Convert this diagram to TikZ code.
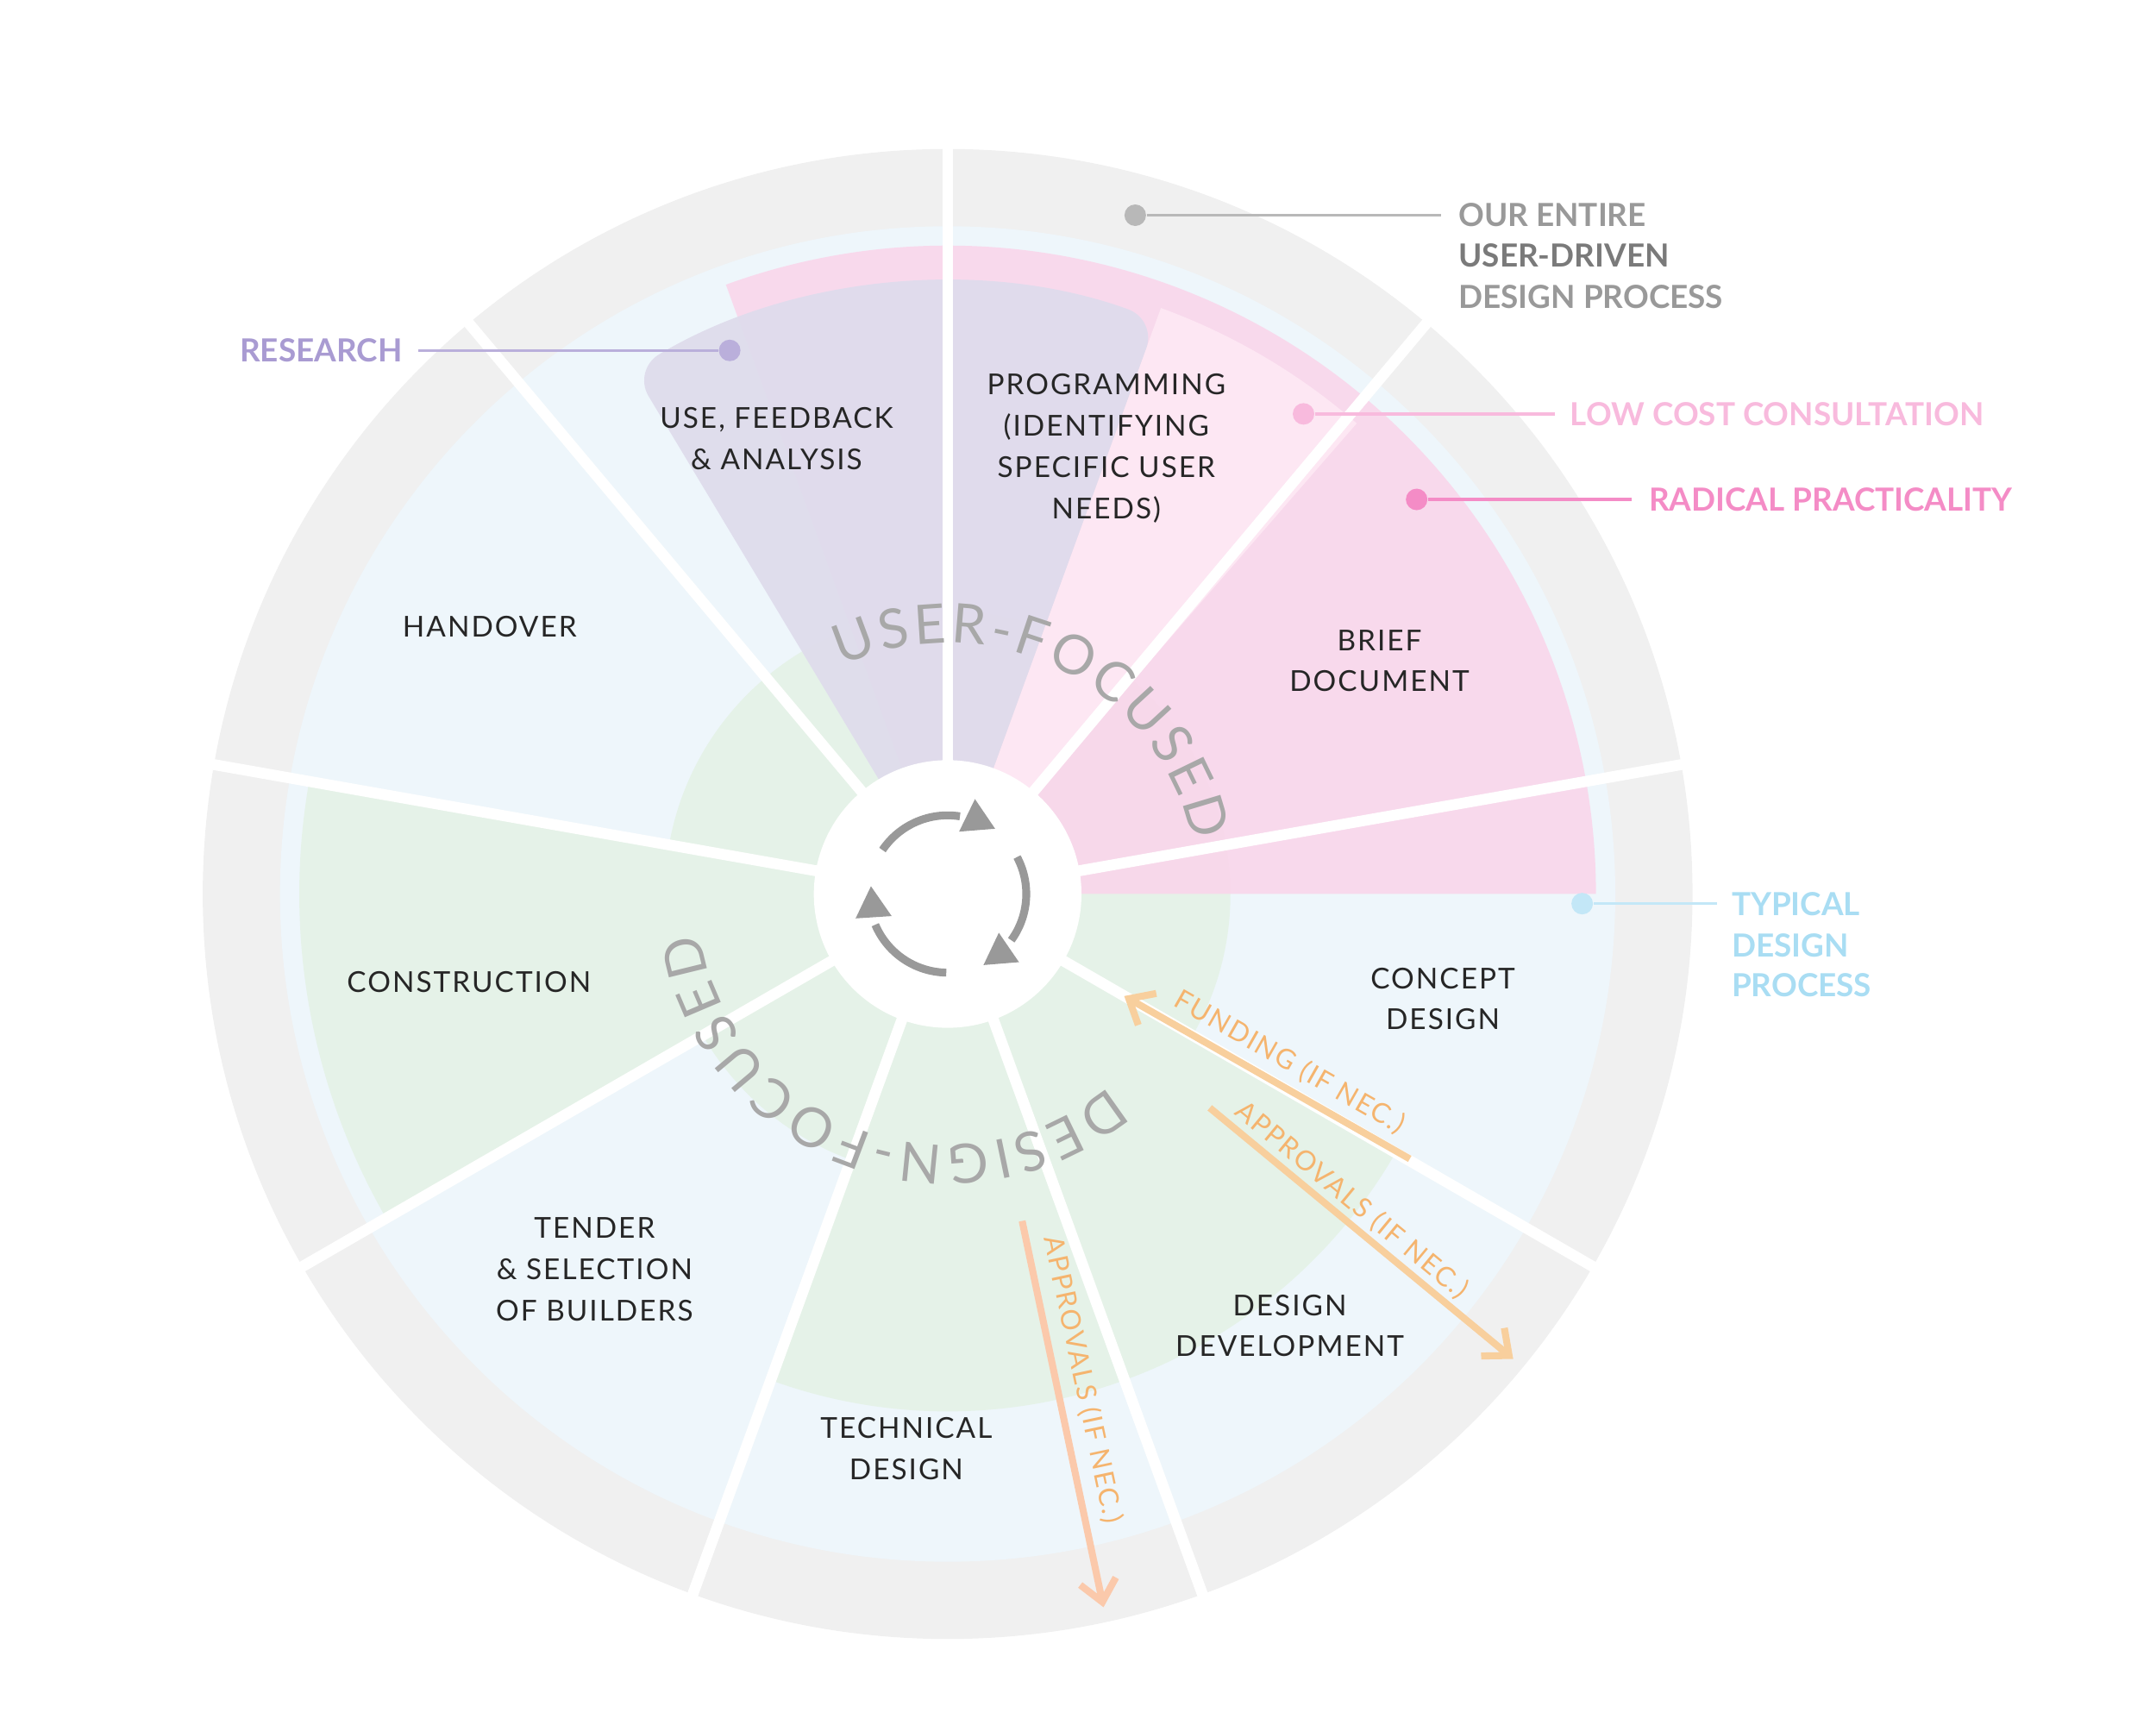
\documentclass[tikz,border=0pt]{standalone}
\usepackage{fontspec}
\setmainfont{Lato}
\newfontfamily\labelfont[LetterSpace=6]{Lato}
\usetikzlibrary{arrows.meta,decorations.text}

\definecolor{ringgray}{HTML}{F0F0F0}
\definecolor{bluebg}{HTML}{EEF6FB}
\definecolor{greenbg}{HTML}{E5F2E8}
\definecolor{purplebg}{HTML}{DFDCEC}
\definecolor{pinkbg}{HTML}{FAD6EB}
\definecolor{pinklight}{HTML}{FDE7F3}
\definecolor{txtgray}{HTML}{999999}
\definecolor{research}{HTML}{A99BD2}
\definecolor{lowcost}{HTML}{F8BADD}
\definecolor{radical}{HTML}{F48CC6}
\definecolor{typical}{HTML}{A9DDF3}
\definecolor{orangetxt}{HTML}{F5B46E}
\definecolor{orangearr}{HTML}{F8CF9D}

\begin{document}
\begin{tikzpicture}[x=0.016cm,y=0.016cm,
    phase/.style={font=\labelfont\fontsize{9.5}{13.6}\selectfont, text=black!85, align=center},
    legend/.style={font=\bfseries\fontsize{10.5}{13}\selectfont, anchor=west, inner sep=0pt},
    note/.style={font=\labelfont\fontsize{9}{11}\selectfont, text=orangetxt, inner sep=0pt},
    orangearrow/.style={draw=orangearr, line width=2.3pt, -{Straight Barb[length=7pt,width=12pt]}},
    divider/.style={white, line width=3.6pt},
    dot/.style={circle, fill, inner sep=0pt, minimum size=0.25cm}]

  \useasboundingbox (-687,-598) rectangle (876,648);

  % rings
  \fill[ringgray] (0,0) circle[radius=540];
  \fill[bluebg] (0,0) circle[radius=484];
  \fill[greenbg] (0,0) circle[radius=205];
  \fill[greenbg] (0,0) -- (-30:375) arc[start angle=-30, end angle=-110, radius=375] -- cycle;
  \fill[greenbg] (0,0) -- (170:470) arc[start angle=170, end angle=210, radius=470] -- cycle;

  % user-focused sectors
  \fill[pinkbg, opacity=0.9] (0,0) -- (0:470) arc[start angle=0, end angle=110, radius=470] -- cycle;
  \fill[pinklight] (0,0) -- (49:452) arc[start angle=49, end angle=70, radius=452] -- cycle;
  \fill[purplebg, opacity=0.95, rounded corners=10] (0,0) -- (121:443) arc[start angle=121, end angle=70, radius=443] -- (0,0);

  % dividers
  \foreach \a in {90,50,10,-30,-70,-110,-150,170,130}
    \draw[divider] (0,0) -- (\a:546);
  \fill[white] (0,0) circle[radius=97];

  % cycle arrows
  \draw[txtgray, line width=2.6pt] (146:57) arc[start angle=146, end angle=81, radius=57];
  \draw[txtgray, line width=2.6pt] (28:57) arc[start angle=28, end angle=-36, radius=57];
  \draw[txtgray, line width=2.6pt] (-91:57) arc[start angle=-91, end angle=-157, radius=57];
  \fill[txtgray] (19.8,68.8) -- (8.3,45.2) -- (34.4,47.3) -- cycle;
  \fill[txtgray] (37.1,-28.1) -- (26,-51.5) -- (51.7,-49.4) -- cycle;
  \fill[txtgray] (-55.6,5.6) -- (-66.7,-17.7) -- (-40.6,-16) -- cycle;

  % curved texts
  \path[decorate, decoration={text along path, text align={fit to path},
      text={|\fontsize{18}{18}\selectfont\color{txtgray!85}|USER-FOCUSED}}]
    (115:182) arc[start angle=115, end angle=12, radius=182];
  \path[decorate, decoration={text along path, text align={fit to path},
      text={|\fontsize{18}{18}\selectfont\color{txtgray!85}|DESIGN-FOCUSED}}]
    (-50:182) arc[start angle=-50, end angle=-171, radius=182];

  % phases
  \node[phase] (use) at (-124,330) {USE, FEEDBACK\\\& ANALYSIS};
  \node[phase] (programming) at (115,323) {PROGRAMMING\\(IDENTIFYING\\SPECIFIC USER\\NEEDS)};
  \node[phase] (brief) at (313,169) {BRIEF\\DOCUMENT};
  \node[phase] (handover) at (-332,194) {HANDOVER};
  \node[phase] (construction) at (-347,-64) {CONSTRUCTION};
  \node[phase] (concept) at (359,-76) {CONCEPT\\DESIGN};
  \node[phase] (tender) at (-256,-272) {TENDER\\\& SELECTION\\OF BUILDERS};
  \node[phase] (technical) at (-30,-402) {TECHNICAL\\DESIGN};
  \node[phase] (development) at (248,-313) {DESIGN\\DEVELOPMENT};

  % orange arrows
  \coordinate (fund0) at (335,-192);
  \coordinate (fund1) at (128,-74);
  \coordinate (appr0) at (190,-155);
  \coordinate (appr1) at (410,-337);
  \coordinate (appt0) at (54,-237);
  \coordinate (appt1) at (113,-517);
  \draw[orangearrow] (fund0) -- (fund1);
  \draw[orangearrow] (appr0) -- (appr1);
  \draw[orangearrow, draw=orangearr!60!pink] (appt0) -- (appt1);
  \node[note, rotate=-29.7] (funding) at (248,-122) {FUNDING (IF NEC.)};
  \node[note, rotate=-39.6] (approvals) at (293,-222) {APPROVALS (IF NEC.)};
  \node[note, rotate=-78] (approvalstech) at (98,-352) {APPROVALS (IF NEC.)};

  % legend
  \node[dot, txtgray!70] (entiredot) at (136,492) {};
  \coordinate (entireend) at (358,492);
  \draw[txtgray!70, line width=1pt] (entiredot) -- (entireend);
  \node[legend, text=txtgray] (entire1) at (370,492) {OUR ENTIRE};
  \node[legend, text=txtgray!80!black] (entire2) at (370,463) {USER-DRIVEN};
  \node[legend, text=txtgray] (entire3) at (370,433) {DESIGN PROCESS};

  \node[dot, research!80] (researchdot) at (-158,394) {};
  \coordinate (researchend) at (-384,394);
  \draw[research!80, line width=1pt] (researchdot) -- (researchend);
  \node[legend, anchor=east, text=research] (researchtxt) at (-395,394) {RESEARCH};

  \node[dot, lowcost] (lowcostdot) at (258,348) {};
  \coordinate (lowcostend) at (440,348);
  \draw[lowcost, line width=1pt] (lowcostdot) -- (lowcostend);
  \node[legend, text=lowcost] (lowcosttxt) at (451,348) {LOW COST CONSULTATION};

  \node[dot, radical] (radicaldot) at (340,286) {};
  \coordinate (radicalend) at (496,286);
  \draw[radical, line width=1pt] (radicaldot) -- (radicalend);
  \node[legend, text=radical] (radicaltxt) at (508,286) {RADICAL PRACTICALITY};

  \node[dot, typical!70] (typicaldot) at (460,-7) {};
  \coordinate (typicalend) at (558,-7);
  \draw[typical!70, line width=1pt] (typicaldot) -- (typicalend);
  \node[legend, text=typical] (typical1) at (568,-7) {TYPICAL};
  \node[legend, text=typical] (typical2) at (568,-37) {DESIGN};
  \node[legend, text=typical] (typical3) at (568,-66) {PROCESS};
\end{tikzpicture}
\end{document}
